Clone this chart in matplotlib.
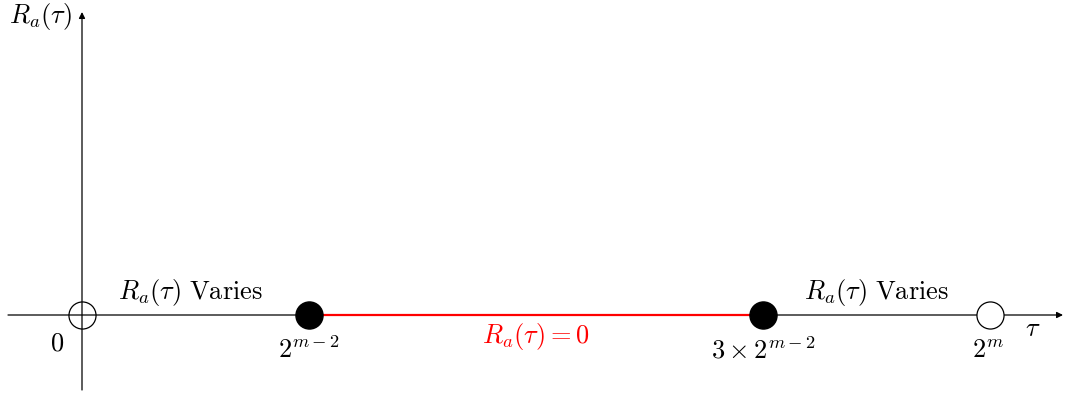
import matplotlib.pyplot as plt

plt.rcParams['mathtext.fontset'] = 'cm'
plt.rcParams['font.family'] = 'serif'
plt.rcParams['font.serif'] = ['DejaVu Serif']

# tau positions in units of 2^m
pts_filled = [0.25, 0.75]
pts_open = [0.0, 1.0]
zero_seg = [0.25, 0.75]
tick_pos = [0.0, 0.25, 0.75, 1.0]
tick_labels = [r'$0$', r'$2^{m-2}$', r'$3\times2^{m-2}$', r'$2^{m}$']
tick_dx = [-0.028, 0.0, 0.0, -0.002]
varies_pos = [0.12, 0.875]

px = 908.0  # pixels per unit
fig = plt.figure(figsize=(10.66, 3.96), dpi=100)
ax = fig.add_axes([0, 0, 1, 1])
ax.set_xlim(-82 / px, (1066 - 82) / px)
ax.set_ylim(-81 / px, 315 / px)
ax.axis('off')

# axes
ax.annotate('', xy=((1063 - 82) / px, 0), xytext=(-74 / px, 0),
            arrowprops=dict(arrowstyle='-|>', color='black', lw=0.9,
                            mutation_scale=9, shrinkA=0, shrinkB=0))
ax.annotate('', xy=(0, 303 / px), xytext=(0, -75 / px),
            arrowprops=dict(arrowstyle='-|>', color='black', lw=0.9,
                            mutation_scale=9, shrinkA=0, shrinkB=0))

# zero segment
ax.plot(zero_seg, [0, 0], color='red', lw=1.6, zorder=3)

# points
ax.plot(pts_filled, [0, 0], 'o', ms=19.5, color='black', zorder=4)
ax.plot(pts_open[0], 0, 'o', ms=19.5, mfc='none', mec='black', mew=0.9, zorder=4)
ax.plot(pts_open[1], 0, 'o', ms=19.5, mfc='white', mec='black', mew=0.9, zorder=4)

fs = 19
for x, lab, dx in zip(tick_pos, tick_labels, tick_dx):
    dy = -28 / px if x == 0 else -35 / px
    ax.text(x + dx, dy, lab, ha='center', va='center', fontsize=fs)

for x in varies_pos:
    ax.text(x, 23 / px, r'$R_a(\tau)\ \mathrm{Varies}$', ha='center', va='center', fontsize=fs)

ax.text(0.5, -22 / px, r'$R_a(\tau)=0$', ha='center', va='center', fontsize=fs, color='red')
ax.text((1033 - 82) / px, -13 / px, r'$\tau$', ha='center', va='center', fontsize=fs)
ax.text(-10 / px, 298 / px, r'$R_a(\tau)$', ha='right', va='center', fontsize=fs)

fig.savefig('out.png', dpi=100)
